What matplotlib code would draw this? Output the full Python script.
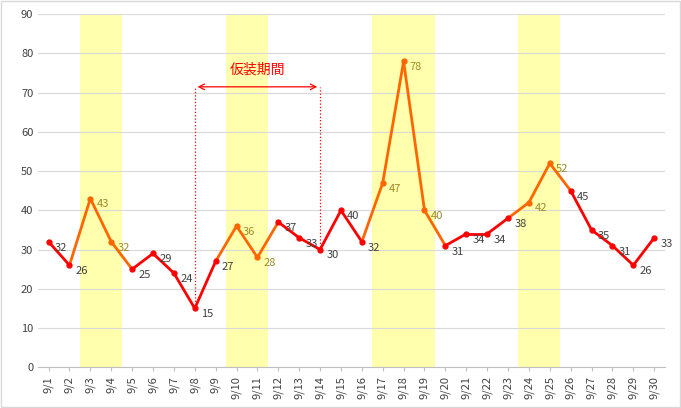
import matplotlib
matplotlib.use("Agg")
import matplotlib.pyplot as plt

plt.rcParams['font.family'] = ['Noto Sans CJK JP', 'DejaVu Sans']

days = [f"9/{d}" for d in range(1, 31)]
values = [32, 26, 43, 32, 25, 29, 24, 15, 27, 36, 28, 37, 33, 30, 40,
          32, 47, 78, 40, 31, 34, 34, 38, 42, 52, 45, 35, 31, 26, 33]
# highlighted day ranges (index start, index end)
bands = [(2, 3), (9, 10), (16, 18), (23, 24)]

fig = plt.figure(figsize=(6.81, 4.08), dpi=100)
fig.patches.append(plt.Rectangle((0.001, 0.002), 0.997, 0.995, transform=fig.transFigure,
                                 fill=False, ec='#d9d9d9', lw=1))
ax = fig.add_axes([0.056, 0.10, 0.92, 0.865])
x = list(range(len(days)))

def in_band(i):
    return any(a <= i <= b for a, b in bands)

for a, b in bands:
    ax.axvspan(a - 0.5, b + 0.5, color='#ffff99', alpha=0.8, lw=0, zorder=0)

for i in range(len(x) - 1):
    c = '#ff6600' if (in_band(i) or in_band(i + 1)) else '#ff0000'
    ax.plot(x[i:i + 2], values[i:i + 2], color=c, lw=2, zorder=3)
for i in x:
    c = '#ff6600' if in_band(i) else '#ff0000'
    ax.plot(i, values[i], 'o', color=c, ms=3.5, zorder=4)
    tc = '#9c8a28' if in_band(i) else '#404040'
    ax.text(i + 0.3, values[i] - 1.5, str(values[i]), fontsize=8, color=tc,
            va='center', ha='left', zorder=5)

# annotation
y0 = 71.5
ax.plot([7, 7], [values[7], y0], ':', color='#ff0000', lw=0.9)
ax.plot([13, 13], [values[13], y0], ':', color='#ff0000', lw=0.9)
ax.annotate('', xy=(7, y0), xytext=(13, y0),
            arrowprops=dict(arrowstyle='<->', color='#ff0000', lw=0.9))
ax.text(10, y0 + 2.5, '仮装期間', color='#ff0000', fontsize=10, ha='center', va='bottom')

ax.set_xlim(-0.5, len(days) - 0.5)
ax.set_ylim(0, 90)
ax.set_yticks(range(0, 91, 10))
ax.set_xticks(x)
ax.set_xticklabels(days, rotation=90, fontsize=8, color='#404040')
ax.tick_params(axis='y', labelsize=8, colors='#404040', length=0)
ax.tick_params(axis='x', length=3, color='#bfbfbf')
ax.grid(axis='y', color='#d9d9d9', lw=0.8)
ax.set_axisbelow(True)
for s in ['top', 'right', 'left']:
    ax.spines[s].set_visible(False)
ax.spines['bottom'].set_color('#bfbfbf')

fig.savefig('out.png')
